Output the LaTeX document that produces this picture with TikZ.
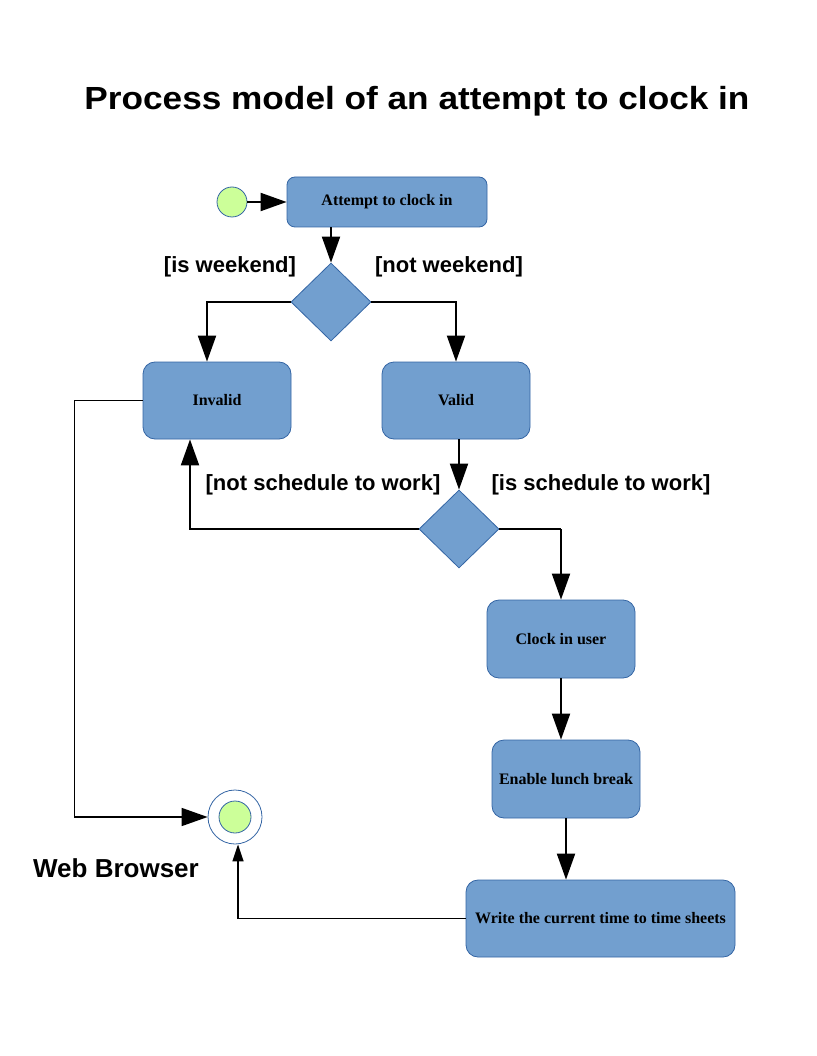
\documentclass[tikz,border=0pt]{standalone}
\usepackage{fontspec}
\setmainfont{Liberation Serif}
\newfontfamily\labelfont{Liberation Sans}
\newfontfamily\titlefont[FakeStretch=1.1]{Liberation Sans}
\usepackage{tikz}
\usetikzlibrary{shapes.geometric, arrows.meta, calc}
\definecolor{boxFill}{HTML}{729FCF}
\definecolor{boxBorder}{HTML}{3465A4}
\definecolor{stateGreen}{HTML}{CCFF99}
\tikzstyle{activity}   = [rectangle,
                          rounded corners=12pt,
                          minimum width=148pt,
                          minimum height=77pt,
                          text centered,
                          draw=boxBorder,
                          line width=0.8pt,
                          fill=boxFill,
                          font=\fontsize{16}{19}\selectfont\bfseries]
\tikzstyle{decision}   = [diamond,
                          minimum width=80pt,
                          minimum height=78pt,
                          inner sep=0pt,
                          draw=boxBorder,
                          line width=0.8pt,
                          fill=boxFill]
\tikzstyle{startState} = [circle,
                          minimum size=30pt,
                          inner sep=0pt,
                          draw=boxBorder,
                          line width=0.8pt,
                          fill=stateGreen]
\tikzstyle{endState}   = [circle,
                          minimum size=54pt,
                          inner sep=0pt,
                          draw=boxBorder,
                          line width=0.8pt]
\tikzstyle{guardLabel} = [font=\labelfont\bfseries\fontsize{22}{26}\selectfont]
\tikzstyle{arrow}      = [line width=2pt, -{Triangle[length=26pt, width=18pt]}]
\tikzstyle{thinLine}   = [line width=1.2pt]
\tikzstyle{thinArrow}  = [line width=1.6pt, -{Triangle[length=17pt, width=11pt]}]

\begin{document}
\begin{tikzpicture}[x=1pt, y=-1pt]
        \useasboundingbox (0,0) rectangle (816,1056);

        \node [font=\titlefont\bfseries\fontsize{32}{38}\selectfont] (title) at (417,101)
            {Process model of an attempt to clock in};

        \node [activity, rounded corners=8pt, minimum width=200pt, minimum height=50pt] (Attempt) at (387,202) {Attempt to clock in};
        \node [startState] (Start)        at ([shift={(-155,0)}] Attempt) {};

        \node [decision] (WeekendCheck)   at ([shift={(-56,100)}] Attempt) {};
        \node [activity] (Invalid)        at ([shift={(-170,198.5)}] Attempt) {Invalid};
        \node [activity] (Valid)          at ([shift={(69,198.5)}] Attempt) {Valid};

        \node [decision] (ScheduleCheck)  at ([shift={(72,327)}] Attempt) {};
        \node [activity, minimum height=78pt] (ClockIn) at ([shift={(174,437)}] Attempt) {Clock in user};
        \node [activity, minimum height=78pt] (Lunch)   at ([shift={(179,577)}] Attempt) {Enable lunch break};
        \node [activity, minimum width=269pt] (Write)   at ([shift={(213.5,716.5)}] Attempt) {Write the current time to time sheets};

        \node [endState] (End)            at ([shift={(-152,615)}] Attempt) {};
        \node [startState, minimum size=32pt] (EndDot) at (End.center) {};

        % guards
        \node [guardLabel] at ([shift={(-101,-35)}] WeekendCheck) {[is weekend]};
        \node [guardLabel] at ([shift={(118,-35)}] WeekendCheck) {[not weekend]};
        \node [guardLabel] at ([shift={(-136,-44)}] ScheduleCheck) {[not schedule to work]};
        \node [guardLabel] at ([shift={(142,-44)}] ScheduleCheck) {[is schedule to work]};
        \node [guardLabel, font=\labelfont\bfseries\fontsize{26}{30}\selectfont] (browser) at ([shift={(-119,51)}] End) {Web Browser};

        \coordinate (ScheduleTurn) at (ScheduleCheck.east -| ClockIn.north);
        \coordinate (BrowserBend)  at ([xshift=-68] Invalid.west);

        \draw [arrow] (Start) -- (Attempt.west);
        \draw [arrow] (WeekendCheck.north |- Attempt.south) -- (WeekendCheck.north);

        \draw [arrow] (WeekendCheck.west) -| ([xshift=-10] Invalid.north);
        \draw [arrow] (WeekendCheck.east) -| (Valid.north);

        \draw [arrow] (ScheduleCheck.north |- Valid.south) -- (ScheduleCheck.north);
        \draw [arrow] (ScheduleCheck.west) -| ([xshift=-27] Invalid.south);
        \draw [thinLine] (ScheduleCheck.east) -- (ScheduleTurn);
        \draw [arrow] (ScheduleTurn) -- (ClockIn.north);

        \draw [arrow] (ClockIn.south) -- (ClockIn.south |- Lunch.north);
        \draw [arrow] (Lunch.south) -- (Lunch.south |- Write.north);

        \draw [thinArrow] (Write.west) -| ([xshift=3] End.south);
        \draw [arrow, line width=1.6pt] (Invalid.west) -- (BrowserBend) |- (End.west);

    \end{tikzpicture}
\end{document}
